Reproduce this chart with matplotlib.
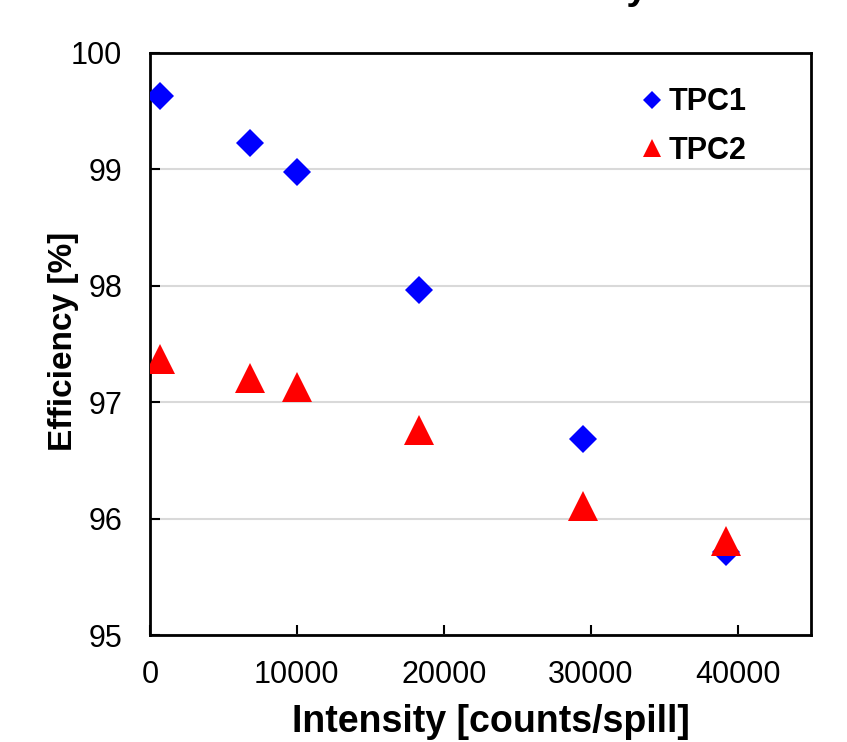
import matplotlib.pyplot as plt

plt.rcParams['font.family'] = ['Liberation Sans', 'DejaVu Sans']

# intensity [counts/spill]
intensity = [700, 6800, 10000, 18300, 29500, 39200]
# efficiency [%]
tpc1 = [99.63, 99.23, 98.98, 97.96, 96.68, 95.71]
tpc2 = [97.37, 97.21, 97.13, 96.76, 96.11, 95.81]

xticks = [0, 10000, 20000, 30000, 40000]
yticks = [95, 96, 97, 98, 99, 100]

fig = plt.figure(figsize=(8.47, 7.42), dpi=100)
ax = fig.add_axes([0.177, 0.1442, 0.7805, 0.7844])

ax.plot(intensity, tpc1, linestyle='none', marker='D', markersize=14.3,
        color='#0000ff', markeredgewidth=0, label='TPC1', zorder=3)
ax.plot(intensity, tpc2, linestyle='none', marker='^', markersize=20.9,
        color='#ff0000', markeredgewidth=0, label='TPC2', zorder=4)

ax.set_xlim(0, 45000)
ax.set_ylim(95, 100)
ax.set_xticks(xticks)
ax.set_yticks(yticks)
ax.set_xticklabels([str(v) for v in xticks])
ax.set_yticklabels([str(v) for v in yticks])

ax.yaxis.grid(True, color='#d9d9d9', linewidth=1.5)
ax.set_axisbelow(True)

for sp in ax.spines.values():
    sp.set_linewidth(2)
    sp.set_color('black')

ax.tick_params(direction='in', length=7, width=1.5, labelsize=22, colors='black')
ax.tick_params(axis='x', pad=18)
ax.tick_params(axis='y', pad=20)

ax.set_xlabel('Intensity [counts/spill]', fontsize=27, fontweight='bold')
ax.set_ylabel('Efficiency [%]', fontsize=24, fontweight='bold')
ax.xaxis.set_label_coords(0.516, -0.118)
ax.yaxis.set_label_coords(-0.108, 0.504)

leg = ax.legend(loc='upper left', bbox_to_anchor=(0.70, 0.988), frameon=False,
                prop={'size': 22, 'weight': 'bold'}, markerscale=0.65,
                handlelength=0.8, handletextpad=0.12, labelspacing=0.6)

# title, mostly cut off at the top edge of the picture
fig.text(648 / 847, 1 + 1 / 742, 'Efficiency', ha='right', va='baseline',
         fontsize=28, fontweight='bold')

fig.savefig('out.png', dpi=100)
